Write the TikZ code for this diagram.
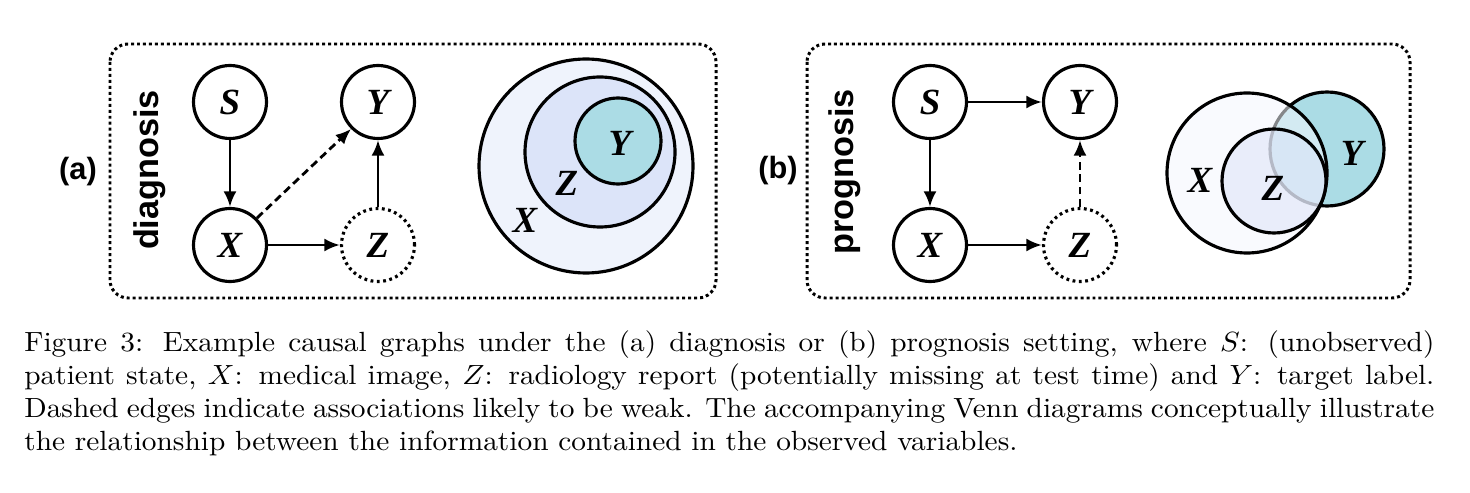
\documentclass[tikz,border=0pt]{standalone}
\usepackage{graphicx}
\usepackage{fontspec}
\newfontfamily\varfont{Liberation Serif}
\newfontfamily\tagfont{Liberation Sans}
\usetikzlibrary{arrows.meta,positioning}
\definecolor{setX}{HTML}{EFF3FC}
\definecolor{setZ}{HTML}{DCE4F9}
\definecolor{setY}{HTML}{ABDCE5}
\definecolor{setXb}{HTML}{F4F6FD}
\definecolor{setZb}{HTML}{DCE3F8}

\begin{document}
\begin{tikzpicture}[x=0.02cm,y=-0.02cm,>={Latex[length=0.31cm,width=0.26cm]},
 var/.style={circle,draw,line width=1.8pt,minimum size=1.46cm,inner sep=0pt,
  font=\varfont\bfseries\itshape\fontsize{21}{21}\selectfont},
 hidden/.style={var,dash pattern=on 1.6pt off 2pt},
 edge/.style={->,line width=1.6pt},
 weak/.style={edge,dash pattern=on 4.5pt off 2.6pt},
 panel/.style={rounded corners=0.36cm,line width=1.7pt,dash pattern=on 1.7pt off 1.7pt},
 tag/.style={font=\tagfont\bfseries\fontsize{17.5}{17.5}\selectfont},
 setting/.style={font=\tagfont\bfseries\fontsize{19.5}{19.5}\selectfont,rotate=90},
 venn/.style={draw,line width=1.8pt},
 vlabel/.style={font=\varfont\bfseries\itshape\fontsize{21}{21}\selectfont}]
\useasboundingbox (0,0) rectangle (1470,493);
% (a) diagnosis
\draw[panel] (110,44) rectangle (716,298);
\node[tag] (taga) at (78,172) {(a)};
\node[setting] (diag) at (150,170) {diagnosis};
\node[var] (Sa) at (230,102) {S};
\node[var] (Ya) at (378,102) {Y};
\node[var] (Xa) at (230,245) {X};
\node[hidden] (Za) at (378,245) {Z};
\draw[edge] (Sa)--(Xa);
\draw[edge] (Xa)--(Za);
\draw[edge] (Za)--(Ya);
\draw[weak] (Xa.45)--(Ya.225);
\draw[venn,fill=setX] (586,166) circle[radius=107];
\draw[venn,fill=setZ] (600,152) circle[radius=75];
\draw[venn,fill=setY] (618,141) circle[radius=43];
\node[vlabel] (vYa) at (620,143) {Y};
\node[vlabel] (vZa) at (567,183) {Z};
\node[vlabel] (vXa) at (525,220) {X};
% (b) prognosis
\draw[panel] (807,44) rectangle (1410,298);
\node[tag] (tagb) at (778,171) {(b)};
\node[setting] (prog) at (845,172) {prognosis};
\node[var] (Sb) at (930,102) {S};
\node[var] (Yb) at (1080,102) {Y};
\node[var] (Xb) at (930,245) {X};
\node[hidden] (Zb) at (1080,245) {Z};
\draw[edge] (Sb)--(Yb);
\draw[edge] (Sb)--(Xb);
\draw[edge] (Xb)--(Zb);
\draw[weak] (Zb)--(Yb);
\draw[venn,fill=setY] (1327,149) circle[radius=57];
\draw[venn,fill=setXb,fill opacity=0.55] (1247,173) circle[radius=80];
\draw[venn,fill=setZb,fill opacity=0.55] (1274,181) circle[radius=52];
\node[vlabel] (vXb) at (1200,180) {X};
\node[vlabel] (vZb) at (1273,188) {Z};
\node[vlabel] (vYb) at (1352,153) {Y};
% caption
\node[anchor=base west,inner sep=0pt] (caption) at (24,351)
 {\scalebox{1.672}[1.58]{\parbox[t]{480pt}{\fontsize{10}{12}\selectfont\hyphenpenalty=10000
 Figure 3: Example causal graphs under the (a) diagnosis or (b) prognosis setting, where $S$: (unobserved)\linebreak
 patient state, $X$: medical image, $Z$: radiology report (potentially missing at test time) and $Y$: target label.\linebreak
 Dashed edges indicate associations likely to be weak. The accompanying Venn diagrams conceptually illustrate\linebreak
 the relationship between the information contained in the observed variables.}}};
\end{tikzpicture}
\end{document}
